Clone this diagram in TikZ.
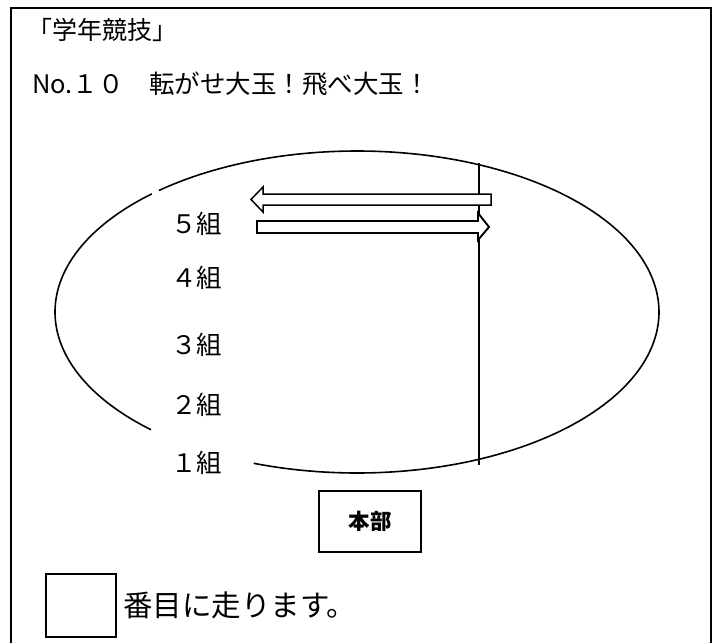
\documentclass[tikz,border=0pt]{standalone}
\usepackage{fontspec}
\newfontfamily\jp{Noto Sans CJK JP}
\begin{document}
\begin{tikzpicture}[x=1pt,y=-1pt,
  line/.style={draw=black,line width=1.6pt},
  lbl/.style={font=\jp\fontsize{25.5}{27}\selectfont,anchor=west,inner sep=0pt},
  arrowshape/.style={draw=black,line width=1.5pt,fill=white,line join=miter}]
\useasboundingbox (0,0) rectangle (714,642);
% outer frame
\draw[line width=1.2pt] (11,8) rectangle (711,660);
% titles
\node[lbl,font=\jp\fontsize{25}{27}\selectfont] (t1) at (27,30) {「学年競技」};
\node[lbl,font=\jp\fontsize{25.5}{27}\selectfont] (t2) at (32,84) {No.１０　転がせ大玉！飛べ大玉！};
% ellipse (with gaps)
\draw[line] plot[domain=250:491,samples=160,smooth] ({357+302*cos(\x)},{312-161*sin(\x)});
\draw[line] plot[domain=132.8:227,samples=80,smooth] ({357+302*cos(\x)},{312-161*sin(\x)});
% vertical line
\coordinate (vt) at (479,163);
\coordinate (vb) at (479,465);
\draw[line] (vt) -- (vb);
% arrows
\draw[arrowshape] (491,194) -- (263,194) -- (263,187) -- (251,199.5) -- (263,212) -- (263,205) -- (491,205) -- cycle;
\draw[arrowshape,line width=1.9pt] (257,221) -- (478,221) -- (478,213) -- (489,227) -- (478,240) -- (478,233) -- (257,233) -- cycle;
% class labels
\node[lbl] (c5) at (171,224) {５組};
\node[lbl] (c4) at (171,278) {４組};
\node[lbl] (c3) at (171,345) {３組};
\node[lbl] (c2) at (171,405) {２組};
\node[lbl] (c1) at (171,463) {１組};
% HQ
\node[draw=black,line width=1.4pt,minimum width=102pt,minimum height=61pt,inner sep=0pt,font=\jp\bfseries\fontsize{21.5}{23}\selectfont] (hq) at (370,521.5) {本部};
% bottom box and text
\node[draw=black,line width=1.4pt,minimum width=70pt,minimum height=63pt,inner sep=0pt] (num) at (81,605.5) {};
\node[lbl,font=\jp\fontsize{29.5}{31}\selectfont] (msg) at (123,605) {番目に走ります。};
\end{tikzpicture}
\end{document}
